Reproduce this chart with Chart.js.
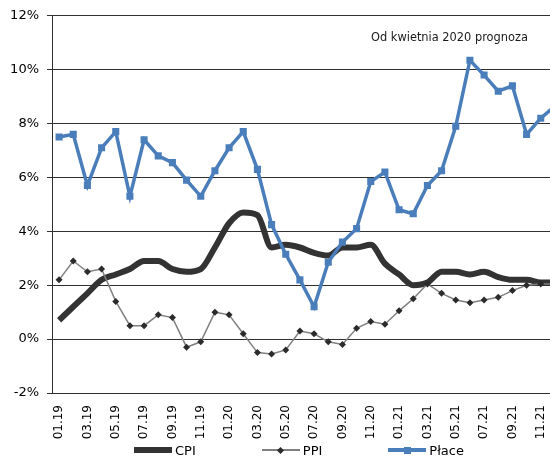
<!DOCTYPE html>
<html>
<head>
<meta charset="utf-8">
<script src="https://cdn.jsdelivr.net/npm/chart.js@4/dist/chart.umd.min.js"></script>
<style>
  html, body { margin: 0; padding: 0; background: #fff; overflow: hidden; }
  #box { position: relative; width: 550px; height: 456px; overflow: hidden; }
  #myChart { position: absolute; left: 0; top: 0; }
  #note { position: absolute; left: 371px; top: 30px; font: 11.4px 'DejaVu Sans', Verdana, sans-serif; color: #1a1a1a; white-space: nowrap; line-height: 14px; }
  #legend { position: absolute; left: 0; width: 598px; top: 441px; height: 18px; display: flex; justify-content: center; align-items: center; }
  .item { display: flex; align-items: center; margin: 0 33px; }
  .sample { position: relative; width: 38px; height: 18px; }
  .sample .ln { position: absolute; left: 0; width: 38px; }
  .sample .mk { position: absolute; }
  .txt { margin-left: 3px; font: 13px 'DejaVu Sans', Verdana, sans-serif; color: #000; white-space: nowrap; }
</style>
</head>
<body>
<div id="box">
  <canvas id="myChart" width="598" height="456"></canvas>
  <div id="note"></div>
  <div id="legend"></div>
</div>
<script>
// meses (eje x)
let months = ["01.19","02.19","03.19","04.19","05.19","06.19","07.19","08.19","09.19","10.19","11.19","12.19",
              "01.20","02.20","03.20","04.20","05.20","06.20","07.20","08.20","09.20","10.20","11.20","12.20",
              "01.21","02.21","03.21","04.21","05.21","06.21","07.21","08.21","09.21","10.21","11.21","12.21"];

// series en %
let cpi_values = [0.7, 1.2, 1.7, 2.2, 2.4, 2.6, 2.9, 2.9, 2.6, 2.5, 2.6, 3.4,
                  4.3, 4.7, 4.6, 3.4, 3.5, 3.4, 3.2, 3.1, 3.4, 3.4, 3.5, 2.8,
                  2.4, 2.0, 2.1, 2.5, 2.5, 2.4, 2.5, 2.3, 2.2, 2.2, 2.1, 2.1];
let ppi_values = [2.2, 2.9, 2.5, 2.6, 1.4, 0.5, 0.5, 0.9, 0.8, -0.3, -0.1, 1.0,
                  0.9, 0.2, -0.5, -0.55, -0.4, 0.3, 0.2, -0.1, -0.2, 0.4, 0.65, 0.55,
                  1.05, 1.5, 2.05, 1.7, 1.45, 1.35, 1.45, 1.55, 1.8, 2.0, 2.05, 2.05];
let place_values = [7.5, 7.6, 5.7, 7.1, 7.7, 5.3, 7.4, 6.8, 6.55, 5.9, 5.3, 6.25,
                    7.1, 7.7, 6.3, 4.25, 3.15, 2.2, 1.2, 2.85, 3.6, 4.1, 5.85, 6.2,
                    4.8, 4.65, 5.7, 6.25, 7.9, 10.35, 9.8, 9.2, 9.4, 7.6, 8.2, 8.65];

// eje y
let y_min = -2;
let y_max = 12;
let y_step = 2;

let note_text = "Od kwietnia 2020 prognoza";

const FONT = "'DejaVu Sans', Verdana, sans-serif";
const GRID_COLOR = '#303030';

const myChart = document.getElementById('myChart');
const chart = new Chart(myChart, {
    type: 'line',
    data: {
        labels: months,
        datasets: [
            {
                label: 'CPI',
                data: cpi_values,
                borderColor: '#333333',
                borderWidth: 6,
                pointRadius: 0,
                cubicInterpolationMode: 'monotone',
                order: 2
            },
            {
                label: 'PPI',
                data: ppi_values,
                borderColor: '#808080',
                borderWidth: 1.5,
                pointStyle: 'rectRot',
                pointRadius: 3.5,
                pointBackgroundColor: '#2b2b2b',
                pointBorderColor: '#2b2b2b',
                pointBorderWidth: 0,
                order: 1
            },
            {
                label: 'Płace',
                data: place_values,
                borderColor: '#4a7ebb',
                borderWidth: 3.5,
                pointStyle: 'rect',
                pointRadius: 5,
                pointBackgroundColor: '#4a7ebb',
                pointBorderColor: '#4a7ebb',
                pointBorderWidth: 0,
                order: 0
            }
        ]
    },
    options: {
        responsive: false,
        animation: false,
        layout: { padding: { top: 15, right: 36, bottom: 0, left: 0 } },
        plugins: {
            legend: { display: false },
            tooltip: { enabled: false }
        },
        scales: {
            x: {
                offset: true,
                grid: { display: false },
                border: { color: GRID_COLOR },
                ticks: {
                    autoSkip: false,
                    maxRotation: 90,
                    minRotation: 90,
                    padding: 4,
                    color: '#000',
                    font: { family: FONT, size: 12 },
                    callback: function(v, i) { return i % 2 === 0 ? months[i] : ''; }
                },
                afterFit: function(scale) { scale.height = 63; }
            },
            y: {
                min: y_min,
                max: y_max,
                grid: { color: GRID_COLOR, lineWidth: 1, tickLength: 5 },
                border: { color: GRID_COLOR },
                ticks: {
                    stepSize: y_step,
                    padding: 8,
                    color: '#000',
                    font: { family: FONT, size: 13 },
                    callback: function(v) { return v + '%'; }
                },
                afterFit: function(scale) { scale.width = 52; }
            }
        }
    }
});

// nota de prognoza
document.getElementById('note').textContent = note_text;

// leyenda en html a partir de los datasets
let legend_html = '';
chart.data.datasets.forEach(ds => {
    let h = ds.borderWidth;
    let marker = '';
    if (ds.pointRadius > 0) {
        let s = Math.round(ds.pointRadius * Math.SQRT2);
        let rot = ds.pointStyle === 'rectRot' ? 'transform:rotate(45deg);' : '';
        marker = `<span class="mk" style="left:${19 - s / 2}px;top:${9 - s / 2}px;width:${s}px;height:${s}px;background:${ds.pointBackgroundColor};${rot}"></span>`;
    }
    legend_html += `<div class="item"><span class="sample"><span class="ln" style="top:${9 - h / 2}px;height:${h}px;background:${ds.borderColor}"></span>${marker}</span><span class="txt">${ds.label}</span></div>`;
});
document.getElementById('legend').innerHTML = legend_html;
</script>
</body>
</html>
